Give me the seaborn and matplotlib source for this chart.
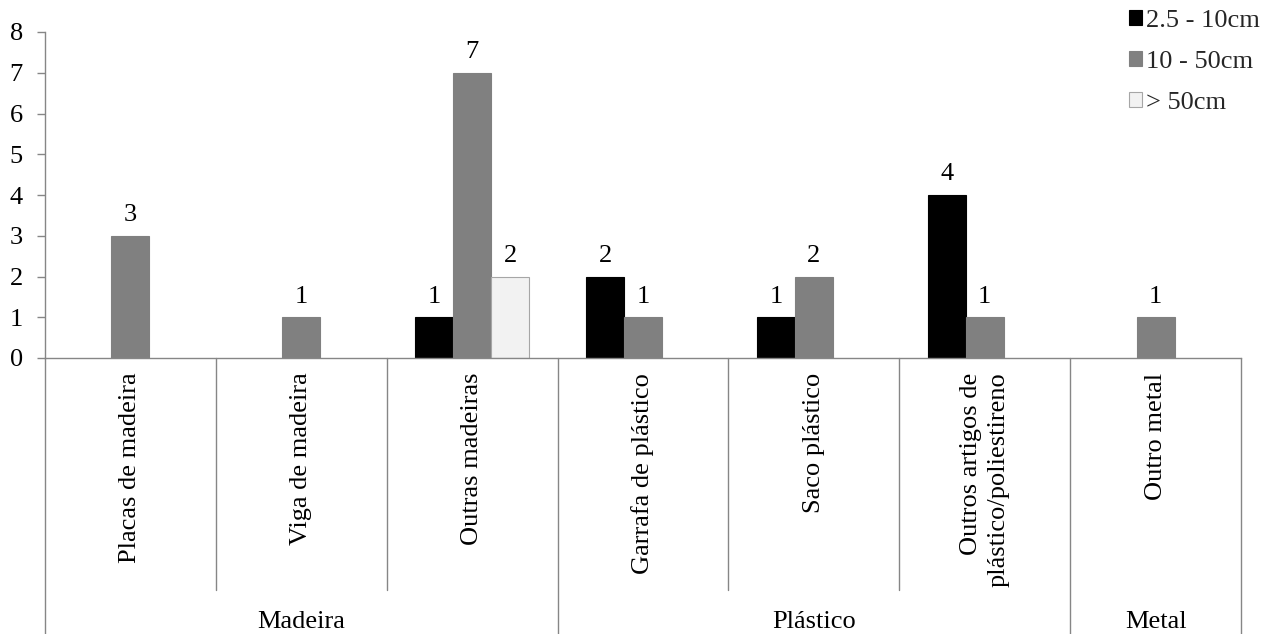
import matplotlib
matplotlib.use("Agg")
import matplotlib.pyplot as plt
import matplotlib.patches as mpatches
import seaborn as sns
import pandas as pd

# Debris items, grouped by material
items = ["Placas de madeira", "Viga de madeira", "Outras madeiras",
         "Garrafa de plástico", "Saco plástico",
         "Outros artigos de\nplástico/poliestireno", "Outro metal"]
groups = ["Madeira", "Plástico", "Metal"]
group_sizes = [3, 3, 1]

# Counts per size class
sizes = ["2.5 - 10cm", "10 - 50cm", "> 50cm"]
small = [0, 0, 1, 2, 1, 4, 0]
medium = [3, 1, 7, 1, 2, 1, 1]
large = [0, 0, 2, 0, 0, 0, 0]

colors = ["#000000", "#808080", "#f2f2f2"]
edges = ["#000000", "#808080", "#a6a6a6"]
axis_grey = "#868686"

rows = []
for size, vals in zip(sizes, [small, medium, large]):
    for item, v in zip(items, vals):
        if v > 0:
            rows.append({"item": item, "size": size, "count": v})
df = pd.DataFrame(rows)

sns.set_theme(style="white")
plt.rcParams["font.family"] = ["Liberation Serif", "DejaVu Serif"]
FS = 19

fig = plt.figure(figsize=(12.63, 6.34), dpi=100)
ax = fig.add_axes([45 / 1263, 1 - 358 / 634, (1241 - 45) / 1263, (358 - 32) / 634])

sns.barplot(data=df, x="item", y="count", hue="size", order=items,
            hue_order=sizes, palette=colors, saturation=1, width=0.667,
            dodge=True, legend=False, ax=ax)

for cont, ec in zip(ax.containers, edges):
    for bar in cont:
        bar.set_edgecolor(ec)
        bar.set_linewidth(0.8)
    ax.bar_label(cont, fmt="%d", padding=7, fontsize=FS, color="black")

ax.set_xlim(-0.5, len(items) - 0.5)
ax.set_ylim(0, 8)
ax.set_yticks(range(0, 9))
ax.set_xlabel("")
ax.set_ylabel("")
ax.set_xticks([])
ax.tick_params(axis="y", direction="out", length=6, width=1, color=axis_grey,
               labelsize=FS, labelcolor="black", pad=10, left=True)
for side in ["top", "right"]:
    ax.spines[side].set_visible(False)
for side in ["left", "bottom"]:
    ax.spines[side].set_color(axis_grey)
    ax.spines[side].set_linewidth(1)

tr = ax.get_xaxis_transform()

# Category labels, rotated, hanging below the axis
for i, name in enumerate(items):
    ax.text(i, -0.045, name, transform=tr, rotation=90, ha="center", va="top",
            multialignment="right", fontsize=FS, color="black", clip_on=False,
            linespacing=1.35)

# Divider lines: short ones between items, long ones between material groups
bounds = [0]
for n in group_sizes:
    bounds.append(bounds[-1] + n)
for k in range(len(items) + 1):
    x = k - 0.5
    y_end = -0.85 if k in bounds else -0.712
    ax.plot([x, x], [0, y_end], transform=tr, color=axis_grey, lw=1,
            clip_on=False)

# Material group labels
for g, a, b in zip(groups, bounds[:-1], bounds[1:]):
    ax.text((a + b - 1) / 2, -0.81, g, transform=tr, ha="center",
            va="center", fontsize=FS, color="black", clip_on=False)

handles = [mpatches.Patch(facecolor=c, edgecolor=e, linewidth=0.8, label=s)
           for c, e, s in zip(colors, edges, sizes)]
fig.legend(handles=handles, loc="upper right", bbox_to_anchor=(1.008, 1.005),
           frameon=False, fontsize=FS, handlelength=0.5, handleheight=0.5,
           handletextpad=0.15, labelspacing=0.72, borderaxespad=0.1)

fig.savefig("out.png", dpi=100)
